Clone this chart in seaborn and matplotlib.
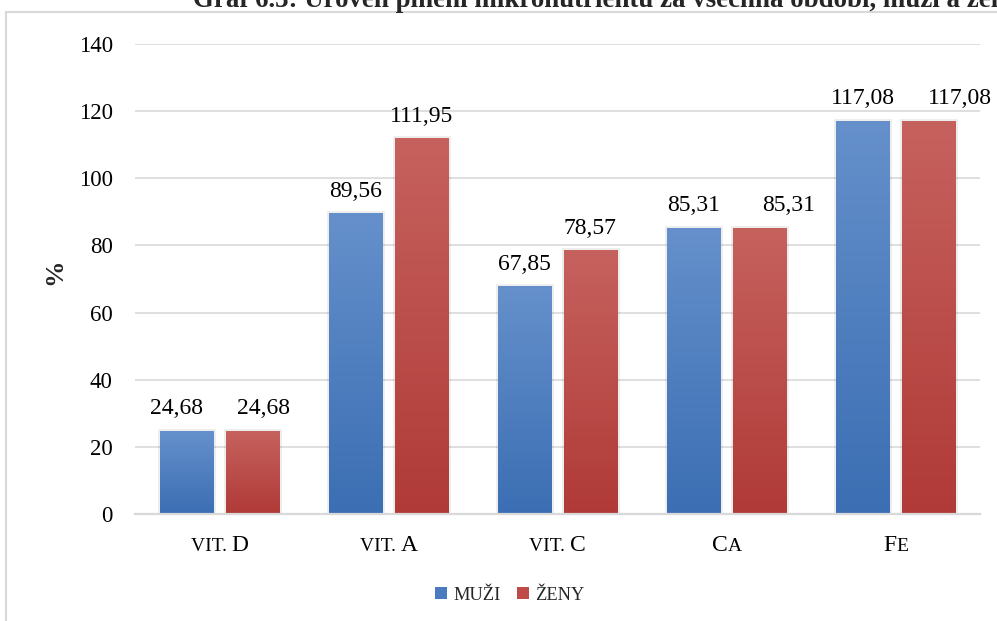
import numpy as np
import pandas as pd
import matplotlib
matplotlib.use("Agg")
import matplotlib.pyplot as plt
import seaborn as sns
from matplotlib.patches import Rectangle, Patch
from matplotlib.transforms import IdentityTransform
from matplotlib.colors import LinearSegmentedColormap
import matplotlib.patheffects as pe

# ---- data ----
categories = ["vit. D", "vit. A", "vit. C", "Ca", "Fe"]
series = ["MUŽI", "ŽENY"]
muzi = [24.68, 89.56, 67.85, 85.31, 117.08]
zeny = [24.68, 111.95, 78.57, 85.31, 117.08]
yticks = [0, 20, 40, 60, 80, 100, 120, 140]

# category labels typeset in small caps: (text, full-size capital?)
label_parts = [
    [("VIT. ", False), ("D", True)],
    [("VIT. ", False), ("A", True)],
    [("VIT. ", False), ("C", True)],
    [("C", True), ("A", False)],
    [("F", True), ("E", False)],
]
title = "Graf 6.3: Úroveň plnění mikronutrientů za všechna období, muži a ženy"

# horizontal nudges (px) that keep equal-value labels apart
label_nudge_muzi = [-10, 0, 0, 0, 0]
label_nudge_zeny = [11, 0, 0, 29, 32]

df = pd.DataFrame({
    "kategorie": categories * 2,
    "pohlaví": [series[0]] * len(categories) + [series[1]] * len(categories),
    "hodnota": muzi + zeny,
})

# ---- style ----
sns.set_theme(style="white")
plt.rcParams["font.family"] = ["Liberation Serif", "DejaVu Serif"]

blue = "#4a7bbf"
red = "#bf4b48"
grads = {
    series[0]: LinearSegmentedColormap.from_list("b", ["#3b6eb3", "#6590cb"]),
    series[1]: LinearSegmentedColormap.from_list("r", ["#b03a37", "#c6625e"]),
}
grid_c = "#d9d9d9"

W, H = 997, 621
fig = plt.figure(figsize=(W / 100, H / 100), dpi=100)
fig.patch.set_facecolor("white")
ax = fig.add_axes([135 / W, 1 - 514 / H, (980 - 135) / W, (514 - 44) / H])

sns.barplot(data=df, x="kategorie", y="hodnota", hue="pohlaví",
            hue_order=series, palette=[blue, red], saturation=1,
            width=0.774, gap=0.186, legend=False, ax=ax,
            linewidth=0, edgecolor="none")

ax.set_xlim(-0.5, len(categories) - 0.5)
ax.set_ylim(0, 140)
ax.set_yticks(yticks)
ax.set_yticklabels([str(t) for t in yticks], fontsize=16.5, color="black")
ax.set_xticklabels([""] * len(categories))
ax.tick_params(axis="both", length=0)
ax.tick_params(axis="y", pad=16)
ax.set_xlabel("")
ax.set_ylabel("")
ax.yaxis.grid(True, color=grid_c, linewidth=1.2)
ax.set_axisbelow(True)
for s in ["top", "right", "left"]:
    ax.spines[s].set_visible(False)
ax.spines["bottom"].set_color(grid_c)
ax.spines["bottom"].set_linewidth(1.6)

# vertical gradient fill + soft shadow for each bar
grad = np.linspace(0, 1, 256).reshape(-1, 1)
nudges = [label_nudge_muzi, label_nudge_zeny]
for container, name, vals, nud in zip(ax.containers, series, [muzi, zeny], nudges):
    for bar in container.patches:
        bar.set_path_effects([pe.withStroke(linewidth=3.5, foreground=(0, 0, 0, 0.07)),
                              pe.Normal()])
        x0, y0 = bar.get_x(), bar.get_y()
        w, h = bar.get_width(), bar.get_height()
        im = ax.imshow(grad, cmap=grads[name], origin="lower", aspect="auto",
                       extent=(x0, x0 + w, y0, y0 + h), zorder=bar.get_zorder() + 0.1)
        im.set_clip_path(bar)
    for bar, v, dx in zip(container.patches, vals, nud):
        ax.annotate(f"{v:.2f}".replace(".", ","),
                    (bar.get_x() + bar.get_width() / 2, bar.get_height()),
                    xytext=(dx * 0.72, 12.0), textcoords="offset points",
                    ha="center", va="baseline", fontsize=17, color="black")
ax.set_xlim(-0.5, len(categories) - 0.5)
ax.set_ylim(0, 140)

# axis title
fig.text(55 / W, 1 - 272 / H, "%", rotation=90, ha="center", va="center",
         fontsize=19, fontweight="bold")

# chart title (runs past the top edge of the chart area)
fig.text(193 / W, 1 - 7 / H, title, ha="left", va="baseline",
         fontsize=19.4, fontweight="bold")

# legend
handles = [Patch(facecolor=blue, edgecolor="none"), Patch(facecolor=red, edgecolor="none")]
fig.legend(handles, series, loc="center", bbox_to_anchor=(510 / W, 1 - 595 / H),
           ncol=2, frameon=False, fontsize=13.2, handlelength=0.65, handleheight=0.65,
           handletextpad=0.33, columnspacing=0.92)

# chart-area border
fig.patches.append(Rectangle((6 / W, -0.1), 1.1, (1 - 12 / H) + 0.1,
                             transform=fig.transFigure, fill=False,
                             edgecolor=grid_c, linewidth=1.5))

# small-caps category labels
fig.canvas.draw()
renderer = fig.canvas.get_renderer()
base_y = H - 551
for i, parts in enumerate(label_parts):
    cx = ax.transData.transform((i, 0))[0]
    texts = []
    for txt, big in parts:
        t = fig.text(0, base_y, txt, transform=IdentityTransform(),
                     fontsize=17 if big else 14, ha="left", va="baseline",
                     color="black")
        texts.append(t)
    widths = [t.get_window_extent(renderer).width for t in texts]
    x = cx - sum(widths) / 2
    for t, w in zip(texts, widths):
        t.set_x(x)
        x += w

fig.savefig("out.png", dpi=100)
